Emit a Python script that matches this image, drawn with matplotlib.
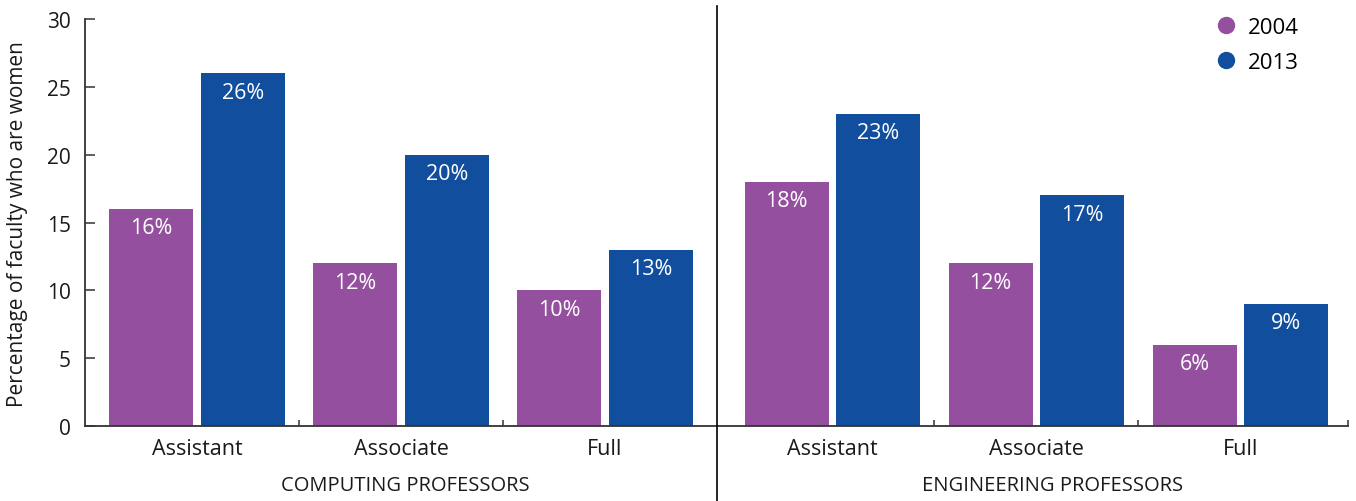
import matplotlib
matplotlib.use("Agg")
import matplotlib.pyplot as plt
from matplotlib.lines import Line2D
import numpy as np

# data
ranks = ["Assistant", "Associate", "Full"]
panels = ["COMPUTING PROFESSORS", "ENGINEERING PROFESSORS"]
years = ["2004", "2013"]
computing_2004 = [16, 12, 10]
computing_2013 = [26, 20, 13]
engineering_2004 = [18, 12, 6]
engineering_2013 = [23, 17, 9]

PURPLE = "#94509E"
BLUE = "#114E9D"
TEXT = "#1a1a1a"

plt.rcParams["font.family"] = ["Open Sans", "DejaVu Sans"]

W, H = 1356, 502
fig = plt.figure(figsize=(W / 100, H / 100), dpi=100)
ax = fig.add_axes([85 / W, (H - 427) / H, (1348 - 85) / W, (427 - 20) / H])

# layout: one unit = one rank group; engineering panel is shifted a bit further right
panel_offset = 3.115
width = 0.412
shift = 0.225
left_centers = np.arange(3) + 0.5
right_centers = left_centers + panel_offset
centers = np.concatenate([left_centers, right_centers])
vals_2004 = computing_2004 + engineering_2004
vals_2013 = computing_2013 + engineering_2013

b1 = ax.bar(centers - shift, vals_2004, width=width, color=PURPLE, zorder=2)
b2 = ax.bar(centers + shift, vals_2013, width=width, color=BLUE, zorder=2)

for bars in (b1, b2):
    for rect in bars:
        h = rect.get_height()
        ax.annotate(f"{h:.0f}%", (rect.get_x() + rect.get_width() / 2, h),
                    xytext=(0, -19), textcoords="offset pixels",
                    ha="center", va="center", color="white", fontsize=15.5)

ax.set_xlim(-0.049, 6.142)
ax.set_ylim(0, 30)
ax.set_yticks(range(0, 31, 5))
ax.tick_params(axis="y", direction="in", length=7, width=1.1, color="#333333",
               labelsize=15, labelcolor=TEXT, pad=10)

# boundary marks on the x axis and rank labels at group centres
ax.set_xticks([1, 2, 1 + panel_offset, 2 + panel_offset, 6.142])
ax.set_xticklabels([])
ax.tick_params(axis="x", which="major", direction="in", length=4.5, width=1.1,
               color="#333333")
ax.set_xticks(centers, minor=True)
ax.set_xticklabels(ranks * 2, minor=True)
ax.tick_params(axis="x", which="minor", length=0, labelsize=15.5,
               labelcolor=TEXT, pad=9)

for side in ("top", "right"):
    ax.spines[side].set_visible(False)
for side in ("left", "bottom"):
    ax.spines[side].set_linewidth(1.3)
    ax.spines[side].set_color("#333333")

# panel titles under the rank labels
for name, xc in zip(panels, [left_centers.mean() + 0.02, right_centers.mean() + 0.08]):
    ax.text(xc, -0.146, name, transform=ax.get_xaxis_transform(),
            ha="center", va="center", fontsize=14.5, color=TEXT)

# separator line between the two panels
fig.add_artist(Line2D([717 / W, 717 / W], [0, (H - 7) / H], color="black",
                      lw=1.2, transform=fig.transFigure))

fig.text(18 / W, 0.553, "Percentage of faculty who are women", rotation=90,
         ha="center", va="center", fontsize=15, color=TEXT)

handles = [Line2D([], [], marker="o", ls="none", color=c, markersize=11.5)
           for c in (PURPLE, BLUE)]
ax.legend(handles, years, loc="upper right", bbox_to_anchor=(1299 / W, (H - 18) / H),
          bbox_transform=fig.transFigure, frameon=False, fontsize=16,
          handletextpad=0.0, labelspacing=0.62, borderaxespad=0, borderpad=0)

fig.savefig("out.png", dpi=100)
